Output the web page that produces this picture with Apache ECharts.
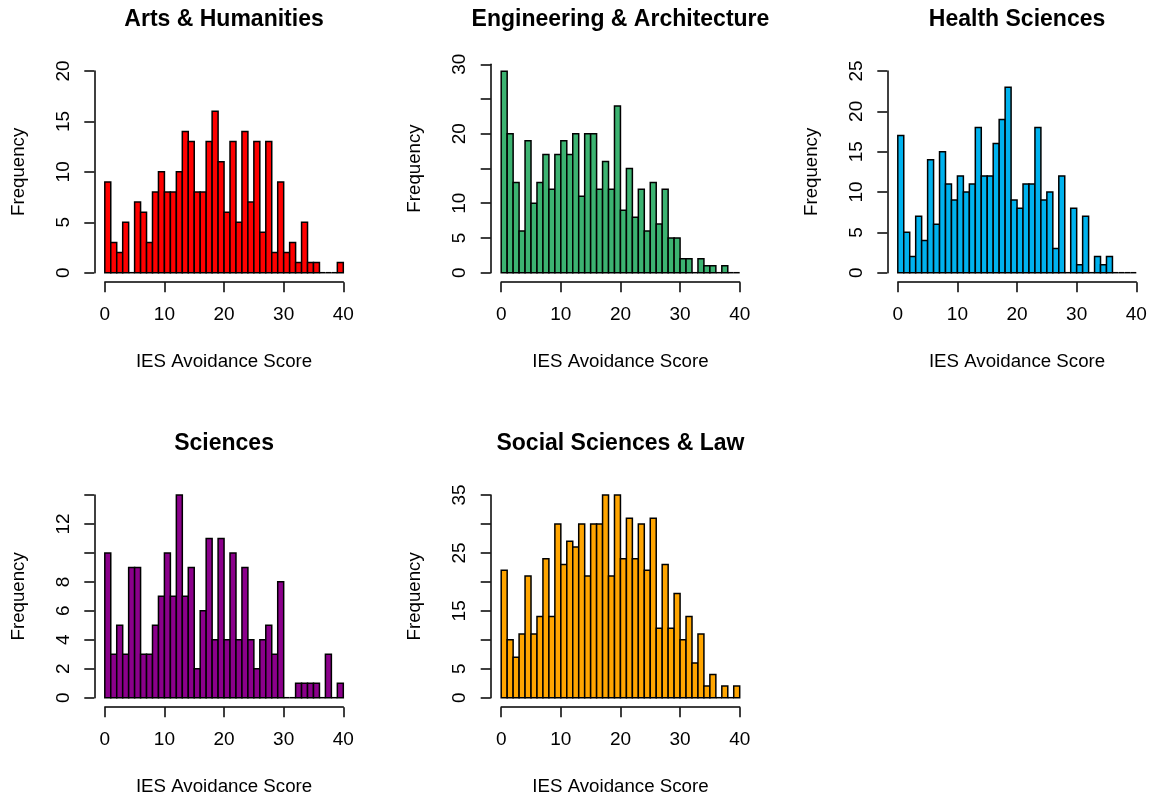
<!DOCTYPE html>
<html>
<head>
<meta charset="utf-8">
<script src="https://cdn.jsdelivr.net/npm/echarts@6/dist/echarts.min.js"></script>
<style>
html,body{margin:0;padding:0;background:#ffffff;}
#chart{width:1155px;height:800px;}
</style>
</head>
<body>
<div id="chart"></div>
<script>
// ---- data ----
const panelTitles = ["Arts & Humanities", "Engineering & Architecture", "Health Sciences", "Sciences", "Social Sciences & Law"];
const binStarts = [0,1,2,3,4,5,6,7,8,9,10,11,12,13,14,15,16,17,18,19,20,21,22,23,24,25,26,27,28,29,30,31,32,33,34,35,36,37,38,39];
const binEnds   = [1,2,3,4,5,6,7,8,9,10,11,12,13,14,15,16,17,18,19,20,21,22,23,24,25,26,27,28,29,30,31,32,33,34,35,36,37,38,39,40];
const artsCounts   = [9,3,2,5,0,7,6,3,8,10, 8,8,10,14,13,8,8,13,16,11, 6,13,5,14,7,13,4,13,2,9, 2,3,1,5,1,1,0,0,0,1];
const engCounts    = [29,20,13,6,19,10,13,17,12,17, 19,17,20,11,20,20,12,16,12,24, 9,15,8,12,6,13,7,12,5,5, 2,2,0,2,1,1,0,1,0,0];
const healthCounts = [17,5,2,7,4,14,6,15,11,9, 12,10,11,18,12,12,16,19,23,9, 8,11,11,18,9,10,3,12,0,8, 1,7,0,2,1,2,0,0,0,0];
const sciCounts    = [10,3,5,3,9,9,3,3,5,7, 10,7,14,7,9,2,6,11,4,11, 4,10,4,9,4,2,4,5,3,8, 0,0,1,1,1,1,0,3,0,1];
const socialCounts = [22,10,7,11,21,11,14,24,14,30, 23,27,26,30,21,30,30,35,21,35, 24,31,24,30,22,31,12,23,12,18, 10,14,6,11,2,4,0,2,0,2];
const xTickValues = [0, 10, 20, 30, 40];
const yMaxValues = [20, 30, 25, 14, 35];
const yIntervals = [5, 5, 5, 2, 5];
const yHiddenLabels = [[], [15, 25], [], [10, 14], [10, 20, 30]];
const xAxisName = "IES Avoidance Score";
const yAxisName = "Frequency";

// ---- style / layout ----
const allCounts = [artsCounts, engCounts, healthCounts, sciCounts, socialCounts];
const fillColors = ["#FF0000", "#3CB371", "#00B2EE", "#8B008B", "#FFA500"];
const FONT = "'Liberation Sans', Arial, Helvetica, sans-serif";
const colLeft = [104.8, 501.2, 897.8];
const plotWidth = 238.5;
const rowBottom = [272.7, 697.7];
const plotTops = [71.0, 64.3, 71.0, 495.0, 495.0];
const titleCapCenter = [18, 442.5];
const LW = 1.5;

const grids = [], xAxes = [], yAxes = [], series = [], titles = [];
for (let i = 0; i < 5; i++) {
  const col = i % 3, row = Math.floor(i / 3);
  const left = colLeft[col], top = plotTops[i];
  const height = rowBottom[row] - top;
  grids.push({ left: left, top: top, width: plotWidth, height: height, containLabel: false });
  xAxes.push({
    type: 'value', gridIndex: i, min: xTickValues[0], max: xTickValues[xTickValues.length - 1], interval: 10,
    position: 'bottom', offset: 9.5,
    axisLine: { show: true, onZero: false, lineStyle: { color: '#000', width: LW } },
    axisTick: { show: true, length: 10, lineStyle: { color: '#000', width: LW } },
    axisLabel: { show: true, margin: 23, color: '#000', fontSize: 19, fontFamily: FONT, showMinLabel: true, showMaxLabel: true },
    splitLine: { show: false },
    name: xAxisName, nameLocation: 'middle', nameGap: 70,
    nameTextStyle: { color: '#000', fontSize: 18.7, fontFamily: FONT }
  });
  const hidden = yHiddenLabels[i];
  yAxes.push({
    type: 'value', gridIndex: i, min: 0, max: yMaxValues[i], interval: yIntervals[i],
    position: 'left', offset: 10.5,
    axisLine: { show: true, onZero: false, lineStyle: { color: '#000', width: LW } },
    axisTick: { show: true, length: 10, lineStyle: { color: '#000', width: LW } },
    axisLabel: { show: true, rotate: 90, margin: 21, color: '#000', fontSize: 19, fontFamily: FONT,
      showMinLabel: true, showMaxLabel: true,
      formatter: function (v) { return hidden.indexOf(v) >= 0 ? '' : String(v); } },
    splitLine: { show: false },
    name: yAxisName, nameLocation: 'middle', nameGap: 66, nameRotate: 90,
    nameTextStyle: { color: '#000', fontSize: 18.7, fontFamily: FONT }
  });
  const color = fillColors[i];
  series.push({
    type: 'custom', xAxisIndex: i, yAxisIndex: i, silent: true,
    data: binStarts.map((s, k) => [s, binEnds[k], allCounts[i][k]]),
    encode: { x: [0, 1], y: 2 },
    renderItem: function (params, api) {
      const s = api.value(0), e = api.value(1), c = api.value(2);
      const p0 = api.coord([s, 0]);
      const p1 = api.coord([e, c]);
      if (c === 0) {
        return { type: 'line', shape: { x1: p0[0], y1: p0[1], x2: p1[0], y2: p0[1] },
          style: { stroke: '#000', lineWidth: LW } };
      }
      return { type: 'rect', shape: { x: p0[0], y: p1[1], width: p1[0] - p0[0], height: p0[1] - p1[1] },
        style: { fill: color, stroke: '#000', lineWidth: LW } };
    }
  });
  titles.push({
    text: panelTitles[i], left: left + plotWidth / 2, top: titleCapCenter[row] - 10, textAlign: 'center', padding: 0,
    textStyle: { color: '#000', fontSize: 23, fontWeight: 'bold', fontFamily: FONT }
  });
}

const chart = echarts.init(document.getElementById('chart'), null, { renderer: 'canvas' });
chart.setOption({
  backgroundColor: '#ffffff',
  animation: false,
  title: titles,
  grid: grids,
  xAxis: xAxes,
  yAxis: yAxes,
  series: series
});
</script>
</body>
</html>
